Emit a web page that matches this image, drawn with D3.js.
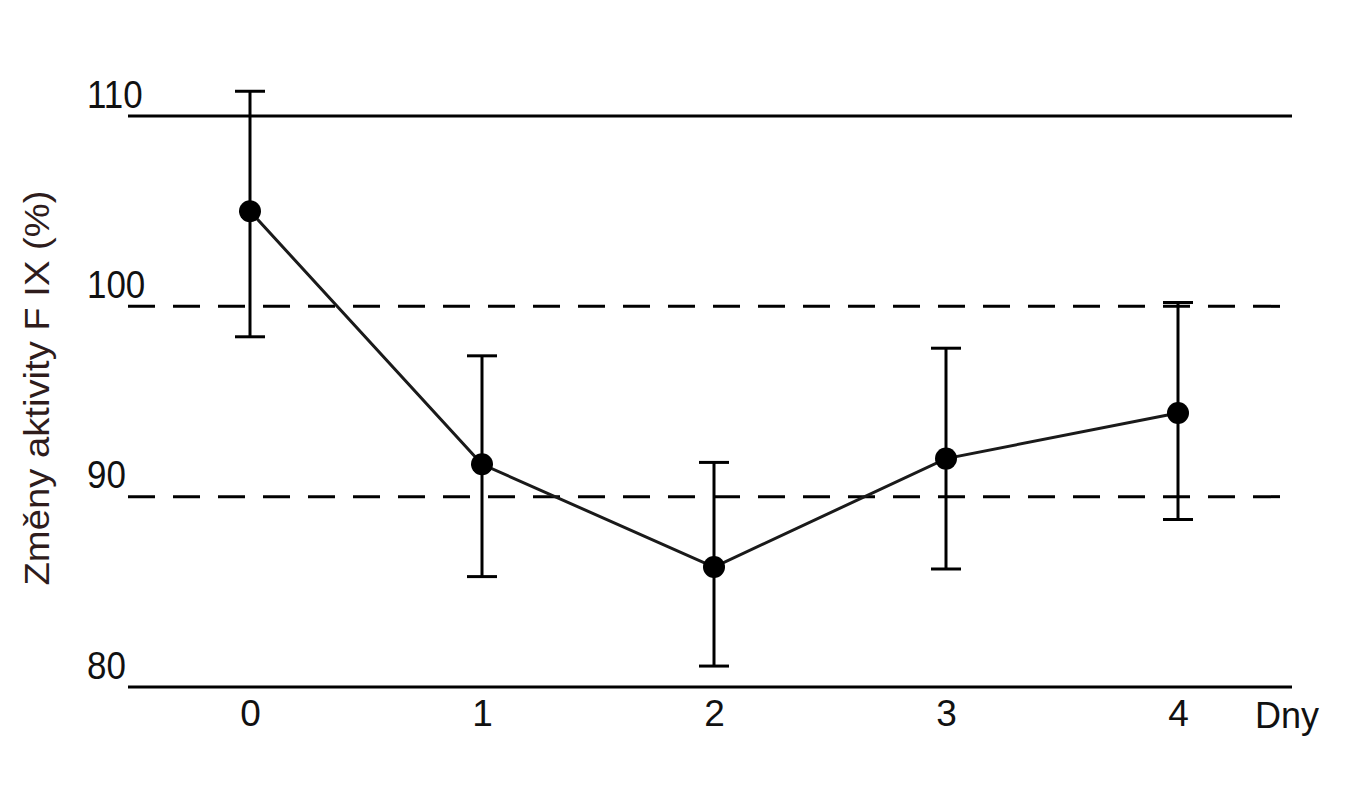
<!DOCTYPE html>
<html>
<head>
<meta charset="utf-8">
<script src="https://cdn.jsdelivr.net/npm/d3@7"></script>
<style>
  body { margin: 0; background: #fff; }
  text { font-family: "Liberation Sans", Arial, sans-serif; }
</style>
</head>
<body>
<svg id="chart" width="1346" height="800"></svg>
<script>
// days after start and measured F IX activity (mean with error bar ends)
const days = [0, 1, 2, 3, 4];
const means = [105.0, 91.7, 86.3, 92.0, 94.4];
const upper = [111.3, 97.4, 91.8, 97.8, 100.2];
const lower = [98.4, 85.8, 81.1, 86.2, 88.8];

const yTicks = [80, 90, 100, 110];
const dashedRefs = [90, 100];
const solidRefs = [110];

const svg = d3.select('#chart');

const x = d3.scaleLinear().domain([0, 4]).range([250, 1178]);
const y = d3.scaleLinear().domain([80, 110]).range([687, 116]);

const left = 128, right = 1292;
const lw = 3;

// horizontal reference lines
svg.selectAll('.ref-solid')
  .data(solidRefs)
  .enter().append('line')
  .attr('x1', left).attr('x2', right)
  .attr('y1', d => y(d)).attr('y2', d => y(d))
  .attr('stroke', '#000')
  .attr('stroke-width', lw);

svg.selectAll('.ref-dash')
  .data(dashedRefs)
  .enter().append('line')
  .attr('x1', left).attr('x2', right - 4)
  .attr('y1', d => y(d)).attr('y2', d => y(d))
  .attr('stroke', '#000')
  .attr('stroke-width', lw)
  .attr('stroke-dasharray', '27,18');

// x axis: baseline + day numbers
const xAxis = d3.axisBottom(x)
  .tickValues(days)
  .tickSize(0)
  .tickPadding(13)
  .tickFormat(d3.format('d'));

const gx = svg.append('g')
  .attr('transform', `translate(0,${y(80)})`)
  .call(xAxis);
gx.select('.domain').remove();
gx.append('line')
  .attr('x1', left).attr('x2', right)
  .attr('stroke', '#000')
  .attr('stroke-width', lw);
gx.selectAll('.tick text')
  .attr('font-size', 37)
  .attr('fill', '#111')
  .attr('font-family', '"Liberation Sans", Arial, sans-serif');

gx.append('text')
  .attr('x', 1255)
  .attr('y', 41)
  .attr('text-anchor', 'start')
  .attr('font-size', 36)
  .attr('fill', '#111')
  .attr('font-family', '"Liberation Sans", Arial, sans-serif')
  .text('Dny');

// y tick labels sit above-left of their lines
const yAxis = d3.axisLeft(y)
  .tickValues(yTicks)
  .tickSize(0)
  .tickFormat(d3.format('d'));

const gy = svg.append('g')
  .attr('transform', 'translate(87,0)')
  .call(yAxis);
gy.select('.domain').remove();
gy.selectAll('.tick text')
  .attr('text-anchor', 'start')
  .attr('x', 0)
  .attr('dy', -9)
  .attr('font-size', 38)
  .attr('transform', 'scale(0.92,1)')
  .attr('fill', '#111')
  .attr('font-family', '"Liberation Sans", Arial, sans-serif');

svg.append('text')
  .attr('transform', 'translate(49,388) rotate(-90)')
  .attr('text-anchor', 'middle')
  .attr('font-size', 35)
  .attr('fill', '#2e1c1c')
  .attr('textLength', 395)
  .attr('lengthAdjust', 'spacingAndGlyphs')
  .text('Změny aktivity F IX (%)');

// error bars
const bars = svg.append('g')
  .selectAll('g')
  .data(days)
  .enter().append('g');

bars.append('line')
  .attr('x1', d => x(d)).attr('x2', d => x(d))
  .attr('y1', (d, i) => y(upper[i]))
  .attr('y2', (d, i) => y(lower[i]))
  .attr('stroke', '#000')
  .attr('stroke-width', lw);

bars.append('line')
  .attr('x1', d => x(d) - 15).attr('x2', d => x(d) + 15)
  .attr('y1', (d, i) => y(upper[i]))
  .attr('y2', (d, i) => y(upper[i]))
  .attr('stroke', '#000')
  .attr('stroke-width', lw);

bars.append('line')
  .attr('x1', d => x(d) - 15).attr('x2', d => x(d) + 15)
  .attr('y1', (d, i) => y(lower[i]))
  .attr('y2', (d, i) => y(lower[i]))
  .attr('stroke', '#000')
  .attr('stroke-width', lw);

// mean line and markers
const line = d3.line()
  .x(d => x(d))
  .y((d, i) => y(means[i]));

svg.append('path')
  .attr('d', line(days))
  .attr('fill', 'none')
  .attr('stroke', '#1a1a1a')
  .attr('stroke-width', 3);

svg.append('g')
  .selectAll('circle')
  .data(days)
  .enter().append('circle')
  .attr('cx', d => x(d))
  .attr('cy', (d, i) => y(means[i]))
  .attr('r', 11)
  .attr('fill', '#000');
</script>
</body>
</html>
